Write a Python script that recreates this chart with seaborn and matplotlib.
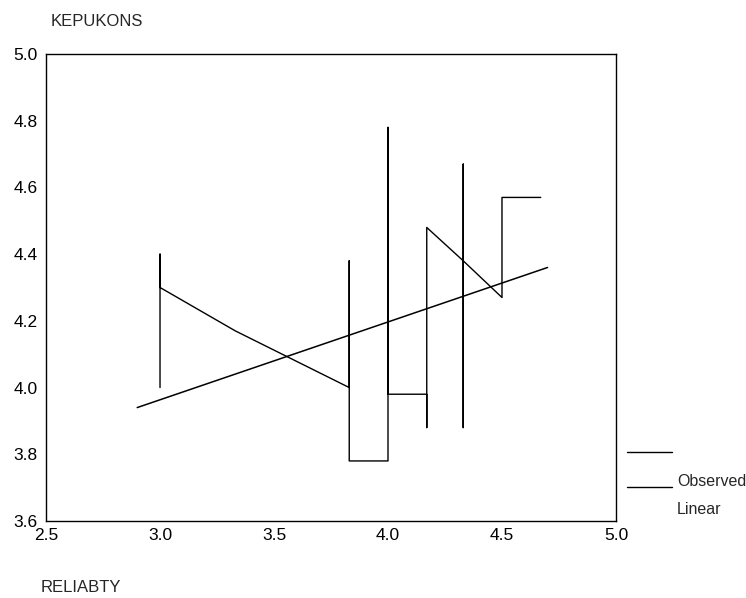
import matplotlib
matplotlib.use("Agg")
import matplotlib.pyplot as plt
import seaborn as sns
import pandas as pd
from matplotlib.lines import Line2D

# Observed values, in the order the line joins them
obs_x = [3.0, 3.0, 3.0, 3.33, 3.83, 3.83, 3.83, 4.0, 4.0, 4.0,
         4.17, 4.17, 4.17, 4.33, 4.33, 4.33, 4.33, 4.5, 4.5, 4.67]
obs_y = [4.0, 4.4, 4.3, 4.17, 4.0, 4.38, 3.78, 3.78, 4.78, 3.98,
         3.98, 3.88, 4.48, 4.38, 4.67, 3.88, 4.38, 4.27, 4.57, 4.57]

# Linear fit, ends of the drawn line
fit_x = [2.9, 4.7]
fit_y = [3.94, 4.36]

x_ticks = [2.5, 3.0, 3.5, 4.0, 4.5, 5.0]
y_ticks = [3.6, 3.8, 4.0, 4.2, 4.4, 4.6, 4.8, 5.0]

sns.set_style("white")
plt.rcParams['font.family'] = ['Liberation Sans', 'DejaVu Sans']

fig = plt.figure(figsize=(7.46, 5.98), dpi=100)
ax = fig.add_axes([0.0617, 0.1288, 0.764, 0.7809])

obs = pd.DataFrame({'x': obs_x, 'y': obs_y})
fit = pd.DataFrame({'x': fit_x, 'y': fit_y})
sns.lineplot(data=obs, x='x', y='y', sort=False, estimator=None,
             color='black', lw=1.0, ax=ax)
sns.lineplot(data=fit, x='x', y='y', sort=False, estimator=None,
             color='black', lw=1.1, ax=ax)

ax.set_xlim(2.5, 5.0)
ax.set_ylim(3.6, 5.0)
ax.set_xticks(x_ticks)
ax.set_yticks(y_ticks)
ax.set_xticklabels([f"{v:.1f}" for v in x_ticks])
ax.set_yticklabels([f"{v:.1f}" for v in y_ticks])
ax.set_xlabel('')
ax.set_ylabel('')
ax.tick_params(axis='both', direction='out', length=3, width=1,
               color='black', labelsize=12.5, labelcolor='black')
ax.tick_params(axis='x', pad=2)
ax.tick_params(axis='y', pad=3)
for s in ax.spines.values():
    s.set_color('black')
    s.set_linewidth(1.0)

fig.text(51 / 746, 1 - 21 / 598, 'KEPUKONS', fontsize=12, va='center', ha='left')
fig.text(41 / 746, 1 - 587 / 598, 'RELIABTY', fontsize=12, va='center', ha='left')

# legend: sample line above each label, as in the original
for ly, ty, label in [(452, 482, 'Observed'), (487, 509, 'Linear')]:
    fig.add_artist(Line2D([627 / 746, 672 / 746], [1 - ly / 598, 1 - ly / 598],
                          color='black', lw=1.0, transform=fig.transFigure))
    fig.text(677 / 746, 1 - ty / 598, label, fontsize=11.5, va='center', ha='left')

fig.savefig('out.png', dpi=100)
